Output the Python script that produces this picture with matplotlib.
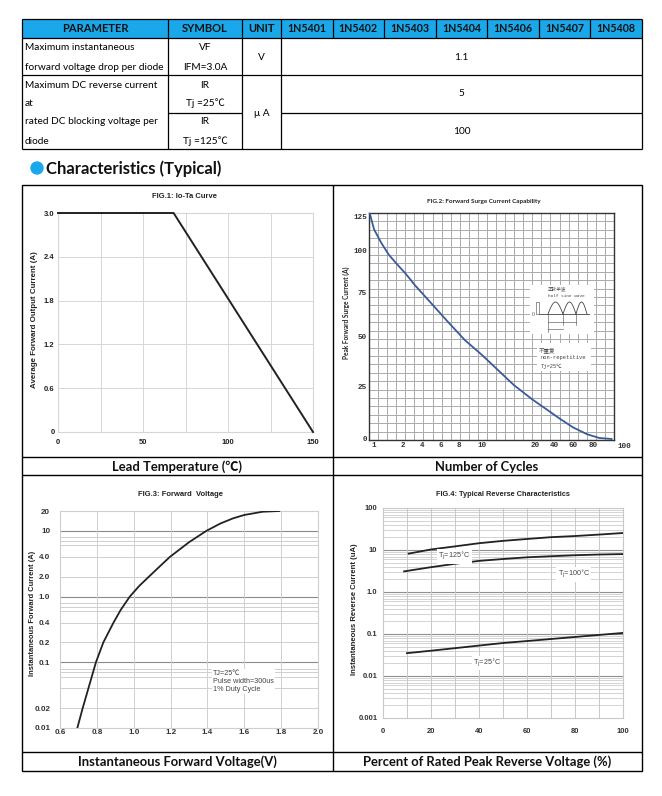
import numpy as np
import matplotlib
matplotlib.use('Agg')
import matplotlib.pyplot as plt
from matplotlib.patches import Rectangle, Circle
from matplotlib.ticker import FixedLocator, NullLocator

plt.rcParams['font.family'] = ['Liberation Sans', 'Noto Sans CJK SC']
LATO = ['Lato', 'Noto Sans CJK SC']
MONO = ['Liberation Mono', 'Noto Sans CJK SC']
BLUE = '#1ba8ea'

# ---- table data ----
header = ['PARAMETER', 'SYMBOL', 'UNIT', '1N5401', '1N5402', '1N5403',
          '1N5404', '1N5406', '1N5407', '1N5408']
param_vf = ['Maximum instantaneous', 'forward voltage drop per diode']
param_ir = ['Maximum DC reverse current', 'at', 'rated DC blocking voltage per', 'diode']
symbols = [['VF', 'IFM=3.0A'], ['IR', 'Tj =25℃'], ['IR', 'Tj =125℃']]
units = ['V', 'μ A']
values = ['1.1', '5', '100']

# ---- FIG.1 Io-Ta ----
lead_temp = [0, 68, 150]
io_avg = [3.0, 3.0, 0.0]
temp_ticks = [0, 50, 100, 150]
io_ticks = [0, 0.6, 1.2, 1.8, 2.4, 3.0]
io_labels = ['0', '0.6', '1.2', '1.8', '2.4', '3.0']

# ---- FIG.2 surge ----
cycles = [0.85, 1.0, 1.25, 1.5, 1.8, 2.2, 2.74, 3.2, 5.0, 6.7, 8.5, 10, 13, 16, 19.5,
          32, 46, 60, 74, 84, 92]
surge = [128, 116, 106, 98, 92, 87, 83.3, 80, 69, 59, 48.5, 41, 33.5, 26, 19,
         14.3, 9.8, 5.6, 2.3, 0.5, 0]
cycle_ticks = [1, 2, 4, 6, 8, 10, 20, 40, 60, 80, 100]
surge_ticks = [0, 25, 50, 75, 100, 125]

# ---- FIG.3 forward voltage ----
vf = [0.694, 0.723, 0.795, 0.835, 0.89, 0.93, 0.979, 1.03, 1.082, 1.14, 1.196,
      1.30, 1.395, 1.47, 1.54, 1.60, 1.70, 1.79]
if_a = [0.01, 0.02, 0.1, 0.2, 0.4, 0.63, 1.0, 1.45, 2.0, 2.85, 4.0,
        6.7, 10, 12.9, 15.5, 17.4, 19.5, 20]
vf_ticks = [0.6, 0.8, 1.0, 1.2, 1.4, 1.6, 1.8, 2.0]
if_ticks = [0.01, 0.02, 0.1, 0.2, 0.4, 1, 2, 4, 10, 20]
if_labels = ['0.01', '0.02', '0.1', '0.2', '0.4', '1.0', '2.0', '4.0', '10', '20']

# ---- FIG.4 reverse ----
pct_125 = [10.7, 20, 30, 40, 50, 60, 70, 80, 90, 100]
ir_125 = [8.2, 10.3, 12.2, 14.5, 16.5, 18.3, 20.2, 21.5, 23.3, 25.4]
pct_100 = [8.8, 20, 30, 40, 50, 60, 70, 80, 90, 100]
ir_100 = [3.1, 3.9, 4.7, 5.5, 6.1, 6.7, 7.1, 7.5, 7.8, 8.0]
pct_25 = [10, 20, 30, 40, 50, 60, 70, 80, 90, 100]
ir_25 = [0.035, 0.040, 0.046, 0.053, 0.061, 0.068, 0.076, 0.085, 0.095, 0.106]
pct_ticks = [0, 20, 40, 60, 80, 100]
ir_ticks = [0.001, 0.01, 0.1, 1, 10, 100]
ir_labels = ['0.001', '0.01', '0.1', '1.0', '10', '100']
tj_labels = ['125', '100', '25']

W, H = 662, 796
fig = plt.figure(figsize=(W / 100, H / 100), dpi=100)
bg = fig.add_axes([0, 0, 1, 1])
bg.set_xlim(0, W)
bg.set_ylim(H, 0)
bg.axis('off')


def px_axes(x0, y0, x1, y1):
    return fig.add_axes([x0 / W, 1 - y1 / H, (x1 - x0) / W, (y1 - y0) / H])


def line(xs, ys, lw=0.9, color='k'):
    bg.plot(xs, ys, color=color, lw=lw, solid_capstyle='butt')


# ---- table ----
col_x = [22, 168, 242, 281] + list(np.linspace(281, 642, 8)[1:])
bg.add_patch(Rectangle((22, 19), 620, 19, fc=BLUE, ec='none'))
for y in [19, 38, 75, 149]:
    line([22, 642], [y, y])
line([168, 242], [113, 113])
line([281, 642], [113, 113])
for x in [22, 168, 242, 281, 642]:
    line([x, x], [19, 149])
for x in col_x[4:-1]:
    line([x, x], [19, 38])
for i, h in enumerate(header):
    bg.text((col_x[i] + col_x[i + 1]) / 2, 29, h, ha='center', va='center',
            fontsize=8 if i < 3 else 7.7, fontweight='bold', family=LATO, color='#111')
for s, y in zip(param_vf, [47, 67]):
    bg.text(25, y, s, va='center', fontsize=7.3, family=LATO)
for s, y in zip(param_ir, [85, 103, 122, 141]):
    bg.text(25, y, s, va='center', fontsize=7.3, family=LATO)
for pair, ys in zip(symbols, [[47, 67], [85, 103], [122, 141]]):
    for s, y in zip(pair, ys):
        bg.text(205, y, s, ha='center', va='center', fontsize=7.3, family=LATO)
for s, y in zip(units, [57, 113]):
    bg.text(261.5, y, s, ha='center', va='center', fontsize=7.3, family=LATO)
for s, y in zip(values, [57, 94, 131]):
    bg.text(461.5, y, s, ha='center', va='center', fontsize=7.3, family=LATO)

# ---- heading ----
bg.add_patch(Circle((37, 168), 6, color=BLUE))
bg.text(46, 169, 'Characteristics (Typical)', va='center', fontsize=12,
        fontweight='bold', family=LATO, color='#111')

# ---- chart frame ----
bg.add_patch(Rectangle((22, 185), 620, 586, fc='none', ec='k', lw=1))
line([333, 333], [185, 771], lw=1)
for y in [457, 475, 752]:
    line([22, 642], [y, y], lw=1)

bottom_labels = ['Lead Temperature (℃)', 'Number of Cycles',
                 'Instantaneous Forward Voltage(V)', 'Percent of Rated Peak Reverse Voltage (%)']
for s, (x, y) in zip(bottom_labels, [(177, 467), (487, 467), (177, 762), (487, 762)]):
    bg.text(x, y, s, ha='center', va='center', fontsize=9.4, fontweight='bold',
            family=LATO, color='#111')

# ---- FIG.1 ----
ax1 = px_axes(58, 213, 313, 432)
ax1.plot(lead_temp, io_avg, color='#222', lw=1.4, clip_on=False, zorder=3)
ax1.set_xlim(0, 150)
ax1.set_ylim(0, 3.0)
ax1.set_xticks(temp_ticks)
ax1.set_xticklabels([str(t) for t in temp_ticks])
ax1.xaxis.set_minor_locator(FixedLocator([25, 75, 125]))
ax1.set_yticks(io_ticks)
ax1.set_yticklabels(io_labels)
ax1.grid(which='both', color='#d6d6d6', lw=0.7)
ax1.tick_params(which='both', length=0, labelsize=5.5, colors='#222')
ax1.tick_params(axis='x', pad=5)
ax1.tick_params(axis='y', pad=2.5)
for lab in ax1.get_xticklabels() + ax1.get_yticklabels():
    lab.set_fontweight('bold')
for sp in ax1.spines.values():
    sp.set_color('#d6d6d6')
bg.text(185, 197, 'FIG.1: Io-Ta Curve', ha='center', va='center', fontsize=5.5,
        fontweight='bold', color='#222')
bg.text(35, 320, 'Average Forward Output Current (A)', rotation=90, ha='center',
        va='center', fontsize=5.7, fontweight='bold', color='#222')
bg.text(86, 371, 'Single Phase\nHalf Wave 60HZ\nResistive or\nInductive Load\n'
        '0.375"(9.5mm)\nLead Length', va='top', fontsize=5.3, color='#333',
        linespacing=1.15)

# ---- FIG.2 ----
cyc_px = [374, 403, 422, 441, 459, 482, 535, 554, 573, 593, 624]
amp_px = [439, 387, 337, 293, 251, 217]
cx_v = [0.0] + cycle_ticks + [200]
cx_p = [345] + cyc_px + [779]
cy_v = [-100] + surge_ticks + [250]
cy_p = [-639] + [-p for p in amp_px] + [-47]


def fx(v):
    return np.interp(v, cx_v, cx_p)


def ix(p):
    return np.interp(p, cx_p, cx_v)


def fy(v):
    return np.interp(v, cy_v, cy_p)


def iy(p):
    return np.interp(p, cy_p, cy_v)


ax2 = px_axes(369, 213, 614, 440)
ax2.set_xscale('function', functions=(fx, ix))
ax2.set_yscale('function', functions=(fy, iy))
ax2.set_xlim(ix(369), ix(614))
ax2.set_ylim(iy(-440), iy(-213))
ax2.vlines(np.linspace(0, 1, 28), 0, 1, transform=ax2.transAxes, color='#aaaaaa', lw=0.7)
ax2.hlines(np.linspace(0, 1, 28), 0, 1, transform=ax2.transAxes, color='#aaaaaa', lw=0.7)
ax2.plot(cycles, surge, color='#3a5b98', lw=1.3, zorder=3)
ax2.xaxis.set_major_locator(FixedLocator(cycle_ticks))
ax2.yaxis.set_major_locator(FixedLocator(surge_ticks))
ax2.xaxis.set_minor_locator(NullLocator())
ax2.yaxis.set_minor_locator(NullLocator())
ax2.set_xticklabels([str(c) for c in cycle_ticks[:-1]] + [''])
ax2.set_yticklabels([str(a) for a in surge_ticks])
ax2.tick_params(length=0, labelsize=5.5, colors='#333', pad=1.5)
for lab in ax2.get_xticklabels() + ax2.get_yticklabels():
    lab.set_fontweight('bold')
    lab.set_family(MONO)
ax2.text(100, -0.027, '100', transform=ax2.get_xaxis_transform(), ha='center',
         va='center', fontsize=5.5, fontweight='bold', family=MONO, color='#333',
         clip_on=False)
for sp in ax2.spines.values():
    sp.set_color('#333')
    sp.set_linewidth(1.0)
bg.text(484, 202, 'FIG.2: Forward Surge Current Capability', ha='center', va='center',
        fontsize=4.6, fontweight='bold', family=LATO, color='#222')
bg.text(346, 313, 'Peak Forward Surge Current (A)', rotation=90, ha='center',
        va='center', fontsize=4.7, fontweight='bold', family=LATO, color='#222')

# half sine wave inset
ins = px_axes(530, 285, 594, 334)
ins.set_xlim(0, 64)
ins.set_ylim(49, 0)
ins.set_xticks([])
ins.set_yticks([])
for sp in ins.spines.values():
    sp.set_visible(False)
ins.set_facecolor('white')
wc = '#444'
ins.plot([9, 59], [29, 29], color=wc, lw=0.6)
t = np.linspace(0, 1, 30)
for a, b in [(18, 33), (33, 46), (46, 57)]:
    ins.plot(a + (b - a) * t, 29 - 12 * np.sin(np.pi * t), color=wc, lw=0.6)
ins.add_patch(Rectangle((6, 17), 3, 12, fc='none', ec=wc, lw=0.4))
ins.plot([18, 18], [29, 47], color=wc, lw=0.4)
ins.plot([33, 33], [29, 40], color=wc, lw=0.4)
ins.plot([46, 46], [29, 40], color=wc, lw=0.4)
ins.plot([18, 46], [36.5, 36.5], color=wc, lw=0.4)
ins.plot([18, 33], [44, 44], color=wc, lw=0.4)
ins.text(18, 5, '正弦半波', fontsize=3.3, va='center', color=wc)
ins.text(18, 11, 'half sine wave', fontsize=3.2, va='center', family=MONO, color=wc)
ins.text(3, 29, '0', fontsize=4, va='center', ha='center', family='Liberation Serif', color=wc)

ins2 = px_axes(537, 343, 591, 371)
ins2.set_xlim(0, 54)
ins2.set_ylim(28, 0)
ins2.set_xticks([])
ins2.set_yticks([])
for sp in ins2.spines.values():
    sp.set_visible(False)
ins2.set_facecolor('white')
ins2.text(2, 7, '不重复', fontsize=4, va='center', color=wc)
ins2.text(4, 15, 'non-repetitive', fontsize=3.9, va='center', family=MONO, color=wc)
ins2.text(4, 23, 'Tj=25℃', fontsize=3.9, va='center', family=MONO, color=wc)

# ---- FIG.3 ----
ax3 = px_axes(60, 511, 318, 728)
ax3.set_yscale('log')
ax3.set_xlim(0.6, 2.0)
ax3.set_ylim(0.01, 20)
for dec in [0.01, 0.1, 1]:
    for m in [2, 4, 6, 7, 8]:
        ax3.axhline(dec * m, color='#cfcfcf', lw=0.7, zorder=0)
for dec in [0.1, 1, 10]:
    ax3.axhline(dec, color='#8a8a8a', lw=0.8, zorder=0)
for v in vf_ticks[1:-1]:
    ax3.axvline(v, color='#cfcfcf', lw=0.7, zorder=0)
ax3.plot(vf, if_a, color='#222', lw=1.3, zorder=3)
ax3.set_xticks(vf_ticks)
ax3.set_xticklabels(['%.1f' % v for v in vf_ticks])
ax3.set_yticks(if_ticks)
ax3.set_yticklabels(if_labels)
ax3.yaxis.set_minor_locator(NullLocator())
ax3.tick_params(length=0, labelsize=5.8, colors='#333')
ax3.tick_params(axis='x', pad=0.5)
ax3.tick_params(axis='y', pad=7)
for lab in ax3.get_xticklabels() + ax3.get_yticklabels():
    lab.set_fontweight('bold')
for sp in ax3.spines.values():
    sp.set_color('#cfcfcf')
ax3.text(1.43, 0.076, 'TJ=25℃\nPulse width=300us\n1% Duty Cycle', fontsize=5.2,
         color='#444', va='top', linespacing=1.2, zorder=4,
         bbox=dict(fc='white', ec='none', pad=1))
bg.text(180, 495, 'FIG.3: Forward  Voltage', ha='center', va='center', fontsize=5.5,
        fontweight='bold', color='#222')
bg.text(33, 613, 'Instantaneous Forward Current (A)', rotation=90, ha='center',
        va='center', fontsize=5.4, fontweight='bold', color='#222')

# ---- FIG.4 ----
ax4 = px_axes(383, 508, 623, 718)
ax4.set_yscale('log')
ax4.set_xlim(0, 100)
ax4.set_ylim(0.001, 100)
for dec in [0.001, 0.01, 0.1, 1, 10]:
    for m in range(2, 10):
        ax4.axhline(dec * m, color='#c8c8c8', lw=0.55, zorder=0)
for dec in [0.01, 0.1, 1, 10]:
    ax4.axhline(dec, color='#8f8f8f', lw=0.8, zorder=0)
for v in range(10, 100, 10):
    ax4.axvline(v, color='#c8c8c8', lw=0.7, zorder=0)
ax4.plot(pct_125, ir_125, color='#222', lw=1.3, zorder=3)
ax4.plot(pct_100, ir_100, color='#222', lw=1.3, zorder=3)
ax4.plot(pct_25, ir_25, color='#222', lw=1.3, zorder=3)
for tj, (x, y) in zip(tj_labels, [(29.7, 7.0), (79.5, 2.6), (43.6, 0.0204)]):
    ax4.text(x, y, r'T$_\mathregular{j}$=' + tj + r'$^{\circ}$C', fontsize=5.2,
             color='#444', ha='center', va='center', zorder=4,
             bbox=dict(fc='white', ec='none', pad=1))
ax4.set_xticks(pct_ticks)
ax4.set_xticklabels([str(p) for p in pct_ticks])
ax4.set_yticks(ir_ticks)
ax4.set_yticklabels(ir_labels)
ax4.yaxis.set_minor_locator(NullLocator())
ax4.tick_params(length=0, labelsize=5.5, colors='#333')
ax4.tick_params(axis='x', pad=7)
ax4.tick_params(axis='y', pad=4)
for lab in ax4.get_xticklabels() + ax4.get_yticklabels():
    lab.set_fontweight('bold')
for sp in ax4.spines.values():
    sp.set_color('#c8c8c8')
bg.text(503, 494, 'FIG.4: Typical Reverse Characteristics', ha='center', va='center',
        fontsize=5.3, fontweight='bold', color='#222')
bg.text(354, 609, 'Instantaneous Reverse Current (uA)', rotation=90, ha='center',
        va='center', fontsize=5.5, fontweight='bold', color='#222')

fig.savefig('out.png', dpi=100)
